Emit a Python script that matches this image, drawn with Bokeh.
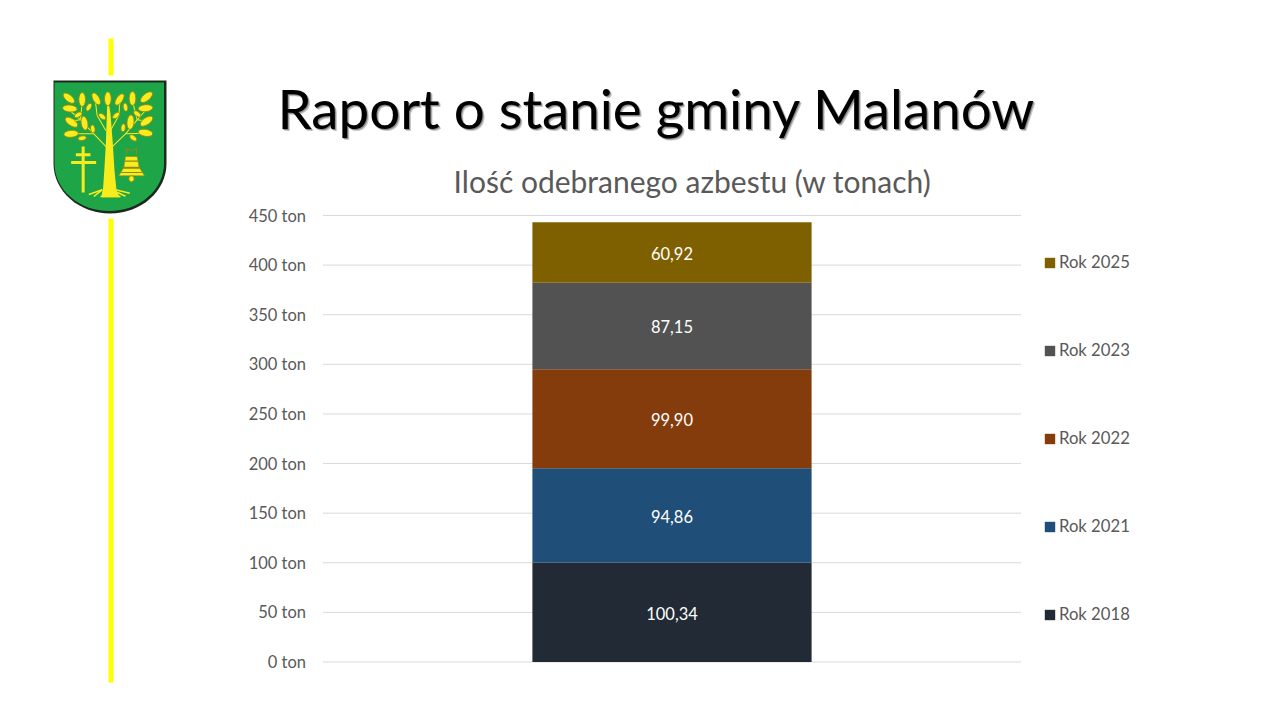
import math
from bokeh.core.properties import value
from bokeh.embed import file_html
from bokeh.resources import INLINE
from bokeh.plotting import figure
from bokeh.models import (ColumnDataSource, Label, LabelSet, Legend, LegendItem,
                          PolyAnnotation, PrintfTickFormatter, Range1d, FixedTicker)

# ---- data ----
categories = ["Rok 2018", "Rok 2021", "Rok 2022", "Rok 2023", "Rok 2025"]
values = [100.34, 94.86, 99.90, 87.15, 60.92]
colors = ["#222a35", "#1f4e79", "#843c0c", "#525252", "#7f6000"]
y_ticks = [0, 50, 100, 150, 200, 250, 300, 350, 400, 450]
heading = "Raport o stanie gminy Malanów"
chart_title = "Ilość odebranego azbestu (w tonach)"

# ---- layout (page pixels); the frame fills the whole canvas ----
FL, FR, FT, FB = 322.5, 1020.5, 215, 661.5
W, H = 1264, 704
FONT = "Lato"
GREY = "#595959"
kx = (FR - FL) / 1.0
ky = (FB - FT) / 450.0

p = figure(width=W, height=H, output_backend="svg", toolbar_location=None,
           x_range=Range1d(-FL / kx, (W - FL) / kx),
           y_range=Range1d(-(H - FB) / ky, 450 + FT / ky),
           min_border_left=0, min_border_right=0, min_border_top=0, min_border_bottom=0)
p.outline_line_color = None
p.background_fill_color = "white"
p.border_fill_color = "white"
p.xgrid.visible = False
p.ygrid.visible = False
p.xaxis.visible = False

# gridlines, only across the plot area
p.segment(x0=[0] * len(y_ticks), x1=[1] * len(y_ticks), y0=y_ticks, y1=y_ticks,
          line_color="#d9d9d9", line_width=1)

ax = p.yaxis[0]
ax.fixed_location = 0
ax.ticker = FixedTicker(ticks=y_ticks)
ax.formatter = PrintfTickFormatter(format="%d ton")
ax.axis_line_color = None
ax.major_tick_line_color = None
ax.minor_tick_line_color = None
ax.major_label_standoff = 11
ax.major_label_text_color = GREY
ax.major_label_text_font = FONT
ax.major_label_text_font_size = "16.5px"

# ---- stacked bar ----
bottoms, tops, mids = [], [], []
run = 0.0
for v in values:
    bottoms.append(run)
    run += v
    tops.append(run)
    mids.append((bottoms[-1] + run) / 2)

src = ColumnDataSource(dict(
    x=[0.5] * len(values), mid=mids,
    text=[f"{v:.2f}".replace(".", ",") for v in values]))

items = []
for i, c in enumerate(categories):
    r = p.vbar(x=[0.5], bottom=[bottoms[i]], top=[tops[i]], width=0.4,
               color=colors[i], line_color=None)
    items.append(LegendItem(label=c, renderers=[r]))

p.add_layout(LabelSet(x="x", y="mid", text="text", source=src, text_color="white",
                      text_align="center", text_baseline="middle", y_offset=-1,
                      text_font=value(FONT), text_font_size="16.5px"))

legend = Legend(items=items[::-1], orientation="vertical",
                location=(1043, H - 624), spacing=68, padding=0, margin=0,
                border_line_color=None, background_fill_alpha=0,
                glyph_width=13, glyph_height=13, label_standoff=3,
                label_height=20, label_text_color=GREY, label_text_font=FONT,
                label_text_font_size="16.7px")
legend.label_text_baseline = "middle"
p.add_layout(legend, "center")


# ---- page decoration, in page pixels ----
def poly(pts, fill, line=None, lw=0):
    p.add_layout(PolyAnnotation(xs=[a for a, b in pts], ys=[H - b for a, b in pts],
                                xs_units="screen", ys_units="screen",
                                fill_color=fill, fill_alpha=1,
                                line_color=line, line_width=lw, line_alpha=1 if line else 0,
                                editable=False))


def text(x, y, s, size, color, align="left"):
    p.add_layout(Label(x=x, y=H - y, x_units="screen", y_units="screen", text=s,
                       text_font=FONT, text_font_size=size, text_color=color,
                       text_align=align, text_baseline="middle"))


def bar(x0, y0, x1, y1, w, fill):
    dx, dy = x1 - x0, y1 - y0
    n = math.hypot(dx, dy)
    nx, ny = -dy / n * w / 2, dx / n * w / 2
    poly([(x0 + nx, y0 + ny), (x1 + nx, y1 + ny), (x1 - nx, y1 - ny), (x0 - nx, y0 - ny)], fill)


# headline with its soft shadow
text(279, 109, heading, "54.7px", "#c8c8c8")
text(278, 108, heading, "54.7px", "#8a8a8a")
text(277, 107, heading, "54.7px", "#000000")
text(692, 180, chart_title, "30px", GREY, "center")

# yellow rule
bar(110.5, 38, 110.5, 75, 5, "#ffff00")
bar(110.5, 218, 110.5, 682, 5, "#ffff00")


# shield
def shield(l, r, t, b, side):
    cx = (l + r) / 2
    pts = [(l, t), (r, t), (r, side)]
    for k in range(1, 16):
        a = k / 16 * math.pi / 2
        pts.append((cx + (r - cx) * math.cos(a), side + (b - side) * math.sin(a)))
    pts.append((cx, b))
    for k in range(15, 0, -1):
        a = k / 16 * math.pi / 2
        pts.append((cx - (cx - l) * math.cos(a), side + (b - side) * math.sin(a)))
    pts.append((l, side))
    return pts


poly(shield(53, 166, 80, 213, 163), "#1c2a1e")
poly(shield(54, 163.5, 82, 210.5, 163), "#1ea548")

YEL = "#f8ec1d"
OLV = "#8f8a14"


def z(a, b):  # from the crop's scale to page pixels
    return 30 + a / 3, 30 + b / 3


def leaf(a, b, length, angle, width=0.48):
    cx, cy = z(a, b)
    L = length / 6
    W_ = L * width
    t = math.radians(angle)
    pts = []
    for k in range(16):
        u = k / 16 * 2 * math.pi
        ex, ey = L * math.cos(u), W_ * math.sin(u)
        pts.append((cx + ex * math.cos(t) - ey * math.sin(t), cy + ex * math.sin(t) + ey * math.cos(t)))
    poly(pts, YEL, OLV, 0.9)


def zbar(a0, b0, a1, b1, w, fill=YEL):
    x0, y0 = z(a0, b0)
    x1, y1 = z(a1, b1)
    bar(x0, y0, x1, y1, w, fill)


def zline(pts, w, fill=YEL):
    for (a0, b0), (a1, b1) in zip(pts, pts[1:]):
        zbar(a0, b0, a1, b1, w, fill)


# branches
for line in [[(228, 350), (190, 310), (150, 268), (118, 240)],
             [(190, 310), (130, 310)],
             [(150, 268), (120, 272)],
             [(150, 268), (155, 215)],
             [(226, 300), (200, 255), (195, 215)],
             [(244, 350), (285, 310), (320, 268), (345, 240)],
             [(285, 310), (345, 308)],
             [(320, 268), (350, 272)],
             [(320, 268), (306, 212)],
             [(240, 300), (265, 255), (268, 215)]]:
    zline(line, 1.0)

# trunk and roots
poly([z(*q) for q in [(230, 225), (236, 225), (240, 250), (247, 340), (252, 420), (258, 480),
                      (268, 500), (212, 500), (218, 470), (222, 410), (226, 340)]], YEL)
for q in [(175, 492, 215, 478), (215, 478, 190, 498), (255, 478, 298, 488), (260, 485, 285, 497),
          (210, 498, 270, 498)]:
    zbar(*q, 1.6)

# leaves
for a, b, l, ang in [(115, 203, 42, 40), (155, 207, 42, 90), (197, 205, 40, 60), (232, 205, 42, 90),
                     (267, 207, 40, -55), (306, 204, 42, 90), (348, 200, 44, -40),
                     (118, 234, 44, 5), (345, 233, 44, -5),
                     (123, 275, 44, 35), (162, 278, 42, 80), (300, 275, 44, 95), (348, 272, 44, -35),
                     (122, 310, 44, -5), (345, 307, 44, 10)]:
    leaf(a, b, l, ang)
for a, b, l, ang in [(143, 253, 25, -30), (175, 230, 25, -60), (215, 258, 25, 40), (257, 255, 25, -40),
                     (285, 230, 25, 80), (320, 250, 25, 40), (187, 295, 24, 80), (278, 292, 24, 95),
                     (155, 323, 25, -10), (308, 322, 25, 40)]:
    leaf(a, b, l, ang, 0.55)

# cross
zbar(158, 348, 158, 486, 3)
zbar(136, 373, 180, 373, 3)
zbar(122, 396, 197, 396, 3)

# bell
poly([z(*q) for q in [(285, 378), (320, 378), (326, 410), (342, 436), (265, 436), (280, 410)]], YEL, OLV, 0.6)
zbar(282, 392, 324, 392, 1.2, OLV)
zbar(278, 412, 328, 412, 2, OLV)
zbar(272, 426, 334, 426, 1.2, OLV)
leaf(303, 445, 18, 90, 0.9)
zline([(288, 372), (288, 354), (303, 362), (318, 354), (318, 372)], 1.0, OLV)

open("out.html", "w").write(file_html(p, INLINE))
